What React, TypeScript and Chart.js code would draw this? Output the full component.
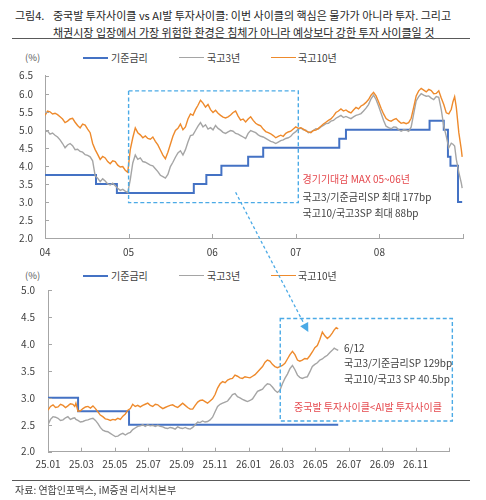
import React, { useEffect, useRef, useState } from 'react';
import { Chart, registerables } from 'chart.js';
Chart.register(...registerables);

const FONT = "'Noto Sans CJK KR', 'Noto Sans', sans-serif";
const BLUE = '#4472C4';
const GRAY = '#A5A5A5';
const ORANGE = '#EE8A2C';
const DASH = '#4BAAE6';
const RED = '#E5484D';

// ---------- Top chart: 2004 ~ 2008 (decimal years) ----------
const topYears = [
  2004.00, 2004.03, 2004.06, 2004.09, 2004.12, 2004.15, 2004.18, 2004.21, 2004.24, 2004.27,
  2004.30, 2004.33, 2004.36, 2004.39, 2004.42, 2004.45, 2004.48, 2004.51, 2004.54, 2004.57,
  2004.60, 2004.63, 2004.66, 2004.69, 2004.72, 2004.75, 2004.78, 2004.81, 2004.84, 2004.87,
  2004.90, 2004.93, 2004.96, 2004.99, 2005.02, 2005.05, 2005.08, 2005.11, 2005.14, 2005.17,
  2005.20, 2005.23, 2005.26, 2005.29, 2005.32, 2005.35, 2005.38, 2005.41, 2005.44, 2005.47,
  2005.50, 2005.53, 2005.56, 2005.59, 2005.62, 2005.65, 2005.68, 2005.71, 2005.74, 2005.77,
  2005.80, 2005.83, 2005.86, 2005.89, 2005.92, 2005.95, 2005.98, 2006.01, 2006.04, 2006.07,
  2006.10, 2006.13, 2006.16, 2006.19, 2006.22, 2006.25, 2006.28, 2006.31, 2006.34, 2006.37,
  2006.40, 2006.43, 2006.46, 2006.49, 2006.52, 2006.55, 2006.58, 2006.61, 2006.64, 2006.67,
  2006.70, 2006.73, 2006.76, 2006.79, 2006.82, 2006.85, 2006.88, 2006.91, 2006.94, 2006.97,
  2007.00, 2007.03, 2007.06, 2007.09, 2007.12, 2007.15, 2007.18, 2007.21, 2007.24, 2007.27,
  2007.30, 2007.33, 2007.36, 2007.39, 2007.42, 2007.45, 2007.48, 2007.51, 2007.54, 2007.57,
  2007.60, 2007.63, 2007.66, 2007.69, 2007.72, 2007.75, 2007.78, 2007.81, 2007.84, 2007.87,
  2007.90, 2007.93, 2007.96, 2007.99, 2008.02, 2008.05, 2008.08, 2008.11, 2008.14, 2008.17,
  2008.20, 2008.23, 2008.26, 2008.29, 2008.32, 2008.35, 2008.38, 2008.41, 2008.44, 2008.47,
  2008.50, 2008.53, 2008.56, 2008.59, 2008.62, 2008.65, 2008.68, 2008.71, 2008.74, 2008.77,
  2008.80, 2008.83, 2008.86, 2008.88, 2008.90, 2008.92, 2008.95, 2008.98, 2008.99,
];
const top10y = [
  5.40, 5.52, 5.50, 5.44, 5.46, 5.42, 5.36, 5.30, 5.20, 5.24,
  5.30, 5.32, 5.21, 5.12, 5.05, 5.16, 5.13, 5.02, 4.92, 4.62,
  4.45, 4.32, 4.18, 4.26, 4.22, 4.12, 4.06, 4.14, 4.12, 4.02,
  3.97, 3.98, 3.88, 3.82, 4.45, 4.78, 5.05, 4.92, 4.86, 4.78,
  4.83, 4.76, 4.74, 4.80, 4.68, 4.58, 4.44, 4.30, 4.20, 4.38,
  4.60, 4.82, 4.98, 5.04, 5.16, 5.00, 5.08, 5.30, 5.44, 5.40,
  5.56, 5.68, 5.82, 5.74, 5.63, 5.70, 5.56, 5.48, 5.54, 5.46,
  5.40, 5.35, 5.33, 5.36, 5.41, 5.48, 5.52, 5.38, 5.27, 5.30,
  5.22, 5.30, 5.36, 5.26, 5.18, 5.14, 5.11, 5.02, 4.95, 4.92,
  4.89, 4.84, 4.78, 4.82, 4.85, 4.82, 4.90, 4.94, 4.96, 5.02,
  5.08, 5.04, 5.06, 5.02, 4.97, 4.94, 4.92, 4.98, 4.99, 5.04,
  5.10, 5.16, 5.21, 5.26, 5.30, 5.38, 5.48, 5.52, 5.58, 5.52,
  5.55, 5.50, 5.47, 5.55, 5.62, 5.58, 5.66, 5.70, 5.76, 5.84,
  5.96, 6.04, 5.94, 5.78, 5.60, 5.44, 5.31, 5.26, 5.24, 5.28,
  5.31, 5.24, 5.18, 5.20, 5.17, 5.20, 5.32, 5.62, 5.94, 6.08,
  6.15, 6.10, 6.05, 6.12, 6.09, 6.00, 6.01, 6.08, 5.88, 5.70,
  5.47, 5.44, 5.57, 5.78, 5.92, 5.62, 4.92, 4.45, 4.25,
];
const top3y = [
  4.94, 4.97, 4.88, 4.91, 4.85, 4.80, 4.72, 4.62, 4.50, 4.58,
  4.62, 4.56, 4.45, 4.46, 4.40, 4.38, 4.31, 4.29, 4.25, 4.14,
  3.72, 3.66, 3.56, 3.64, 3.58, 3.50, 3.47, 3.52, 3.45, 3.38,
  3.32, 3.35, 3.30, 3.26, 3.62, 4.08, 4.30, 4.18, 4.22, 4.12,
  4.10, 4.06, 4.02, 4.00, 3.92, 3.84, 3.74, 3.70, 3.66, 3.76,
  3.98, 4.10, 4.24, 4.36, 4.42, 4.30, 4.45, 4.66, 4.84, 4.86,
  4.98, 5.10, 5.20, 5.08, 5.14, 5.02, 5.06, 5.00, 5.12, 5.04,
  4.99, 4.93, 4.90, 4.94, 4.98, 4.96, 4.90, 4.88, 4.84, 4.80,
  4.76, 4.90, 4.98, 4.95, 4.92, 4.86, 4.82, 4.80, 4.76, 4.72,
  4.68, 4.66, 4.62, 4.66, 4.70, 4.72, 4.76, 4.78, 4.82, 4.90,
  4.95, 5.02, 5.05, 5.00, 4.99, 4.92, 4.94, 4.98, 5.03, 5.02,
  5.08, 5.12, 5.17, 5.18, 5.24, 5.26, 5.32, 5.36, 5.40, 5.34,
  5.37, 5.34, 5.31, 5.36, 5.40, 5.42, 5.45, 5.52, 5.60, 5.70,
  5.86, 5.96, 5.84, 5.66, 5.46, 5.26, 5.10, 5.06, 5.03, 5.08,
  5.07, 5.00, 4.96, 5.00, 4.99, 4.96, 5.08, 5.44, 5.80, 5.92,
  6.00, 5.96, 5.93, 5.94, 5.88, 5.84, 5.92, 5.90, 5.56, 5.10,
  4.82, 4.50, 4.63, 4.60, 4.55, 4.18, 3.82, 3.52, 3.38,
];
const topPolicyYears = [2004.00, 2004.61, 2004.86, 2005.78, 2005.93, 2006.11, 2006.43, 2006.61, 2007.52, 2007.60, 2008.60, 2008.77, 2008.82, 2008.85, 2008.94, 2008.99];
const topPolicyRates = [3.75, 3.50, 3.25, 3.50, 3.75, 4.00, 4.25, 4.50, 4.75, 5.00, 5.25, 5.00, 4.25, 4.00, 3.00, 3.00];
const topTickLabels = ['04', '05', '06', '07', '08'];

// ---------- Bottom chart: months since 2025.01 ----------
const botMonths = [
  0.00, 0.15, 0.30, 0.45, 0.60, 0.75, 0.90, 1.05, 1.19, 1.34,
  1.49, 1.60, 1.67, 1.79, 1.94, 2.09, 2.24, 2.39, 2.54, 2.69,
  2.84, 2.99, 3.13, 3.28, 3.43, 3.58, 3.73, 3.88, 4.03, 4.18,
  4.33, 4.48, 4.63, 4.78, 4.93, 5.07, 5.22, 5.37, 5.52, 5.67,
  5.82, 5.97, 6.12, 6.27, 6.42, 6.57, 6.72, 6.87, 7.01, 7.16,
  7.31, 7.46, 7.61, 7.76, 7.91, 8.06, 8.21, 8.36, 8.51, 8.66,
  8.81, 8.96, 9.10, 9.25, 9.40, 9.55, 9.70, 9.85, 10.00, 10.15,
  10.30, 10.45, 10.60, 10.75, 10.90, 11.04, 11.19, 11.34, 11.49, 11.64,
  11.79, 11.94, 12.09, 12.24, 12.39, 12.54, 12.69, 12.84, 12.99, 13.13,
  13.28, 13.43, 13.58, 13.73, 13.88, 14.03, 14.18, 14.33, 14.48, 14.63,
  14.78, 14.93, 15.07, 15.22, 15.37, 15.52, 15.67, 15.82, 15.97, 16.12,
  16.27, 16.42, 16.57, 16.72, 16.87, 17.01, 17.13, 17.25, 17.37,
];
const bot10y = [
  2.77, 2.84, 2.87, 2.82, 2.83, 2.88, 2.86, 2.82, 2.85, 2.89,
  2.88, 2.84, 2.90, 2.75, 2.76, 2.80, 2.83, 2.84, 2.81, 2.85,
  2.80, 2.74, 2.68, 2.65, 2.61, 2.60, 2.58, 2.60, 2.59, 2.62,
  2.60, 2.66, 2.70, 2.77, 2.80, 2.88, 2.84, 2.86, 2.83, 2.86,
  2.88, 2.90, 2.86, 2.84, 2.88, 2.87, 2.83, 2.80, 2.82, 2.84,
  2.86, 2.87, 2.84, 2.82, 2.86, 2.90, 2.86, 2.82, 2.79, 2.79,
  2.86, 2.92, 2.95, 2.96, 2.93, 2.90, 2.94, 2.98, 3.06, 3.18,
  3.26, 3.30, 3.28, 3.33, 3.35, 3.36, 3.42, 3.40, 3.37, 3.36,
  3.39, 3.38, 3.37, 3.40, 3.43, 3.48, 3.53, 3.58, 3.66, 3.70,
  3.68, 3.62, 3.58, 3.56, 3.58, 3.60, 3.64, 3.72, 3.80, 3.86,
  3.80, 3.70, 3.68, 3.70, 3.73, 3.72, 3.78, 3.85, 3.93, 3.97,
  4.08, 4.22, 4.15, 4.10, 4.14, 4.20, 4.26, 4.30, 4.28,
];
const bot3y = [
  2.50, 2.60, 2.65, 2.64, 2.62, 2.58, 2.59, 2.63, 2.65, 2.60,
  2.62, 2.63, 2.60, 2.58, 2.55, 2.56, 2.58, 2.59, 2.61, 2.62,
  2.58, 2.52, 2.45, 2.40, 2.38, 2.37, 2.34, 2.31, 2.28, 2.29,
  2.32, 2.34, 2.31, 2.34, 2.36, 2.41, 2.44, 2.47, 2.48, 2.50,
  2.47, 2.50, 2.48, 2.49, 2.47, 2.49, 2.47, 2.46, 2.44, 2.43,
  2.45, 2.44, 2.42, 2.46, 2.44, 2.43, 2.45, 2.43, 2.42, 2.45,
  2.50, 2.55, 2.54, 2.57, 2.55, 2.56, 2.59, 2.64, 2.74, 2.84,
  2.88, 2.90, 2.92, 2.94, 3.00, 3.06, 3.08, 3.02, 3.00, 2.97,
  2.95, 2.93, 2.95, 2.98, 3.05, 3.12, 3.14, 3.16, 3.22, 3.26,
  3.25, 3.20, 3.14, 3.10, 3.14, 3.26, 3.36, 3.44, 3.54, 3.60,
  3.52, 3.42, 3.38, 3.36, 3.38, 3.39, 3.48, 3.58, 3.62, 3.65,
  3.70, 3.72, 3.76, 3.79, 3.84, 3.88, 3.92, 3.90, 3.88,
];
const botPolicyMonths = [0, 1.8, 4.85, 17.37];
const botPolicyRates = [3.0, 2.75, 2.5, 2.5];
const botTickLabels = ['25.01', '25.03', '25.05', '25.07', '25.09', '25.11', '26.01', '26.03', '26.05', '26.07', '26.09', '26.11'];

// annotation boxes (data coordinates)
const topBox = { x0: 2005.0, x1: 2007.03, y0: 2.98, y1: 6.08 };
const botBox = { x0: 13.9, x1: 24.2, y0: 2.57, y1: 4.47 };
const arrowFrom = { x: 2006.28, y: 3.27 };
const arrowTo = { x: 15.58, y: 4.22 };

const TOP = { top: 60, height: 200 };
const BOT = { top: 280, height: 200 };

const pts = (xs: number[], ys: number[]) => xs.map((x, i) => ({ x, y: ys[i] }));

function decorPlugin(box: { x0: number; x1: number; y0: number; y1: number }) {
  return {
    id: 'decor',
    afterDraw(chart: any) {
      const { ctx, chartArea, scales } = chart;
      const x = scales.x, y = scales.y;
      ctx.save();
      ctx.strokeStyle = '#A6A6A6';
      ctx.lineWidth = 1;
      ctx.beginPath();
      y.ticks.forEach((_: any, i: number) => {
        const py = Math.round(y.getPixelForTick(i)) + 0.5;
        ctx.moveTo(chartArea.left, py);
        ctx.lineTo(chartArea.left + 4, py);
      });
      x.ticks.forEach((_: any, i: number) => {
        const px = Math.round(x.getPixelForTick(i)) + 0.5;
        ctx.moveTo(px, chartArea.bottom);
        ctx.lineTo(px, chartArea.bottom - 4);
      });
      ctx.stroke();
      ctx.strokeStyle = DASH;
      ctx.lineWidth = 1.4;
      ctx.setLineDash([4, 2.5]);
      const l = x.getPixelForValue(box.x0), r = x.getPixelForValue(box.x1);
      const t = y.getPixelForValue(box.y1), b = y.getPixelForValue(box.y0);
      ctx.strokeRect(l, t, r - l, b - t);
      ctx.restore();
    },
  };
}

function makeChart(
  canvas: HTMLCanvasElement,
  cfg: {
    xs: number[]; s3: number[]; s10: number[]; px: number[]; pr: number[];
    xmin: number; xmax: number; xstep: number; ymin: number; ymax: number;
    label: (v: number) => string; pad: any; yWidth: number; yPad: number; xPad: number;
    box: any;
  }
) {
  return new Chart(canvas, {
    type: 'line',
    data: {
      datasets: [
        { label: '기준금리', data: pts(cfg.px, cfg.pr), borderColor: BLUE, borderWidth: 2, stepped: true, pointRadius: 0, order: 2 },
        { label: '국고3년', data: pts(cfg.xs, cfg.s3), borderColor: GRAY, borderWidth: 1.4, pointRadius: 0, order: 1 },
        { label: '국고10년', data: pts(cfg.xs, cfg.s10), borderColor: ORANGE, borderWidth: 1.4, pointRadius: 0, order: 0 },
      ],
    },
    options: {
      animation: false,
      responsive: true,
      maintainAspectRatio: false,
      layout: { padding: cfg.pad },
      plugins: { legend: { display: false }, tooltip: { enabled: false } },
      scales: {
        x: {
          type: 'linear', min: cfg.xmin, max: cfg.xmax,
          grid: { display: false, drawTicks: false },
          border: { display: true, color: '#A6A6A6', width: 1 },
          ticks: {
            stepSize: cfg.xstep, autoSkip: false, maxRotation: 0, padding: cfg.xPad,
            color: '#404040', font: { size: 10, family: FONT },
            callback: (v: any) => cfg.label(Number(v)),
          },
          afterFit: (s: any) => { s.height = 20; s.paddingLeft = 0; s.paddingRight = 0; },
        },
        y: {
          min: cfg.ymin, max: cfg.ymax,
          grid: { display: false, drawTicks: false },
          border: { display: true, color: '#A6A6A6', width: 1 },
          ticks: {
            stepSize: 0.5, padding: cfg.yPad, color: '#404040', font: { size: 10, family: FONT },
            callback: (v: any) => Number(v).toFixed(1),
          },
          afterFit: (s: any) => { s.width = cfg.yWidth; s.paddingTop = 0; s.paddingBottom = 0; },
        },
      },
    },
    plugins: [decorPlugin(cfg.box)],
  } as any);
}

const Txt = ({ x, y, size = 10, color = '#404040', children }: any) => (
  <div style={{
    position: 'absolute', left: x, top: y, transform: 'translateY(-50%)', fontSize: size,
    lineHeight: 1, whiteSpace: 'nowrap', fontFamily: FONT, color,
  }}>{children}</div>
);

const Legend = ({ y }: { y: number }) => (
  <>
    <Txt x={25} y={y} size={9.5} color="#595959">(%)</Txt>
    <div style={{ position: 'absolute', left: 83, top: y - 1, width: 25, height: 2, background: BLUE }} />
    <Txt x={111} y={y}>기준금리</Txt>
    <div style={{ position: 'absolute', left: 179, top: y - 0.75, width: 25, height: 1.5, background: GRAY }} />
    <Txt x={207} y={y}>국고3년</Txt>
    <div style={{ position: 'absolute', left: 271, top: y - 0.75, width: 25, height: 1.5, background: ORANGE }} />
    <Txt x={298} y={y}>국고10년</Txt>
  </>
);

export default function App() {
  const topRef = useRef<HTMLCanvasElement>(null);
  const botRef = useRef<HTMLCanvasElement>(null);
  const [arrow, setArrow] = useState<{ x1: number; y1: number; x2: number; y2: number } | null>(null);

  useEffect(() => {
    Chart.defaults.font.family = FONT;
    const top = makeChart(topRef.current!, {
      xs: topYears, s3: top3y, s10: top10y, px: topPolicyYears, pr: topPolicyRates,
      xmin: 2004, xmax: 2009, xstep: 1, ymin: 2, ymax: 6.5,
      label: (v) => topTickLabels[Math.round(v - 2004)] ?? '',
      pad: { left: 0, top: 15.7, right: 23, bottom: 2 }, yWidth: 45, yPad: 12, xPad: 8,
      box: topBox,
    });
    const bot = makeChart(botRef.current!, {
      xs: botMonths, s3: bot3y, s10: bot10y, px: botPolicyMonths, pr: botPolicyRates,
      xmin: 0, xmax: 24, xstep: 2, ymin: 2, ymax: 5,
      label: (v) => botTickLabels[Math.round(v / 2)] ?? '',
      pad: { left: 0, top: 10, right: 37, bottom: 8.3 }, yWidth: 48, yPad: 13, xPad: 7,
      box: botBox,
    });
    setArrow({
      x1: (top.scales as any).x.getPixelForValue(arrowFrom.x),
      y1: (top.scales as any).y.getPixelForValue(arrowFrom.y) + TOP.top,
      x2: (bot.scales as any).x.getPixelForValue(arrowTo.x),
      y2: (bot.scales as any).y.getPixelForValue(arrowTo.y) + BOT.top,
    });
    return () => { top.destroy(); bot.destroy(); };
  }, []);

  let arrowEl = null;
  if (arrow) {
    const dx = arrow.x2 - arrow.x1, dy = arrow.y2 - arrow.y1;
    const len = Math.hypot(dx, dy);
    const ux = dx / len, uy = dy / len;
    const hl = 9, hw = 4.5;
    const bx = arrow.x2 - ux * hl, by = arrow.y2 - uy * hl;
    arrowEl = (
      <svg width={486} height={500} style={{ position: 'absolute', left: 0, top: 0, pointerEvents: 'none' }}>
        <line x1={arrow.x1} y1={arrow.y1} x2={bx} y2={by} stroke={DASH} strokeWidth={1.3} strokeDasharray="3 2.5" />
        <polygon
          points={`${arrow.x2},${arrow.y2} ${bx - uy * hw},${by + ux * hw} ${bx + uy * hw},${by - ux * hw}`}
          fill={DASH}
        />
      </svg>
    );
  }

  return (
    <div style={{ position: 'absolute', left: 0, top: 0, width: 486, height: 500, background: '#fff', overflow: 'hidden', fontFamily: FONT }}>
      <Txt x={15} y={14.5} size={11} color="#262626">그림4.</Txt>
      <Txt x={53} y={14.5} size={11} color="#262626">중국발 투자사이클 vs AI발 투자사이클: 이번 사이클의 핵심은 물가가 아니라 투자. 그리고</Txt>
      <Txt x={53} y={31.7} size={11} color="#262626">채권시장 입장에서 가장 위험한 환경은 침체가 아니라 예상보다 강한 투자 사이클일 것</Txt>
      <div style={{ position: 'absolute', left: 12, top: 38, width: 458, height: 1, background: '#595959' }} />

      <Legend y={57.5} />
      <div style={{ position: 'absolute', left: 0, top: TOP.top, width: 486, height: TOP.height }}>
        <canvas ref={topRef} />
      </div>
      <Txt x={302.5} y={179.3} color={RED}>경기기대감 MAX 05~06년</Txt>
      <Txt x={302.5} y={196.7}>국고3/기준금리SP 최대 177bp</Txt>
      <Txt x={302.5} y={212.7}>국고10/국고3SP 최대 88bp</Txt>

      <Legend y={275.7} />
      <div style={{ position: 'absolute', left: 0, top: BOT.top, width: 486, height: BOT.height }}>
        <canvas ref={botRef} />
      </div>
      <Txt x={344} y={348}>6/12</Txt>
      <Txt x={344} y={363.3}>국고3/기준금리SP 129bp</Txt>
      <Txt x={344} y={379}>국고10/국고3 SP 40.5bp</Txt>
      <Txt x={294} y={406.7} color={RED}>중국발 투자사이클&lt;AI발 투자사이클</Txt>

      <div style={{ position: 'absolute', left: 12, top: 480, width: 458, height: 1, background: '#595959' }} />
      <Txt x={15} y={489.5} color="#404040">자료: 연합인포맥스, iM증권 리서치본부</Txt>
      {arrowEl}
    </div>
  );
}
